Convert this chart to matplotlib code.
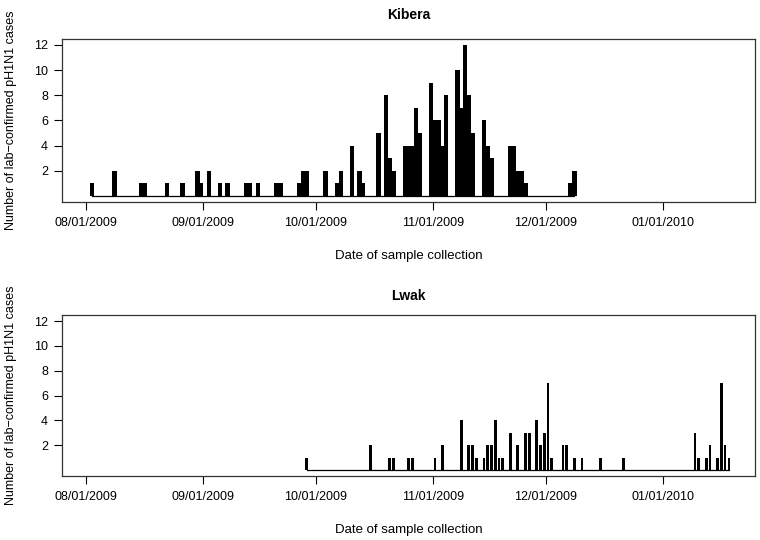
import pandas as pd
import matplotlib
matplotlib.use("Agg")
import matplotlib.pyplot as plt
import matplotlib.dates as mdates

plt.rcParams['font.family'] = ['Liberation Sans', 'DejaVu Sans']

# daily counts
kibera_dates = ["2009-08-02", "2009-08-08", "2009-08-15", "2009-08-16", "2009-08-22",
                "2009-08-26", "2009-08-30", "2009-08-31", "2009-09-02", "2009-09-05",
                "2009-09-07", "2009-09-12", "2009-09-13", "2009-09-15", "2009-09-20",
                "2009-09-21", "2009-09-26", "2009-09-27", "2009-09-28", "2009-10-03",
                "2009-10-06", "2009-10-07", "2009-10-10", "2009-10-12", "2009-10-13",
                "2009-10-17", "2009-10-19", "2009-10-20", "2009-10-21", "2009-10-24",
                "2009-10-25", "2009-10-26", "2009-10-27", "2009-10-28", "2009-10-31",
                "2009-11-01", "2009-11-02", "2009-11-03", "2009-11-04", "2009-11-07",
                "2009-11-08", "2009-11-09", "2009-11-10", "2009-11-11", "2009-11-14",
                "2009-11-15", "2009-11-16", "2009-11-21", "2009-11-22", "2009-11-23",
                "2009-11-24", "2009-11-25", "2009-12-07", "2009-12-08"]
kibera_cases = [1, 2, 1, 1, 1,
                1, 2, 1, 2, 1,
                1, 1, 1, 1, 1,
                1, 1, 2, 2, 2,
                1, 2, 4, 2, 1,
                5, 8, 3, 2, 4,
                4, 4, 7, 5, 9,
                6, 6, 4, 8, 10,
                7, 12, 8, 5, 6,
                4, 3, 4, 4, 2,
                2, 1, 1, 2]

lwak_dates = ["2009-09-28", "2009-10-15", "2009-10-20", "2009-10-21", "2009-10-25",
              "2009-10-26", "2009-11-01", "2009-11-03", "2009-11-08", "2009-11-10",
              "2009-11-11", "2009-11-12", "2009-11-14", "2009-11-15", "2009-11-16",
              "2009-11-17", "2009-11-18", "2009-11-19", "2009-11-21", "2009-11-23",
              "2009-11-25", "2009-11-26", "2009-11-28", "2009-11-29", "2009-11-30",
              "2009-12-01", "2009-12-02", "2009-12-05", "2009-12-06", "2009-12-08",
              "2009-12-10", "2009-12-15", "2009-12-21", "2010-01-09", "2010-01-10",
              "2010-01-12", "2010-01-13", "2010-01-15", "2010-01-16", "2010-01-17",
              "2010-01-18"]
lwak_cases = [1, 2, 1, 1, 1,
              1, 1, 2, 4, 2,
              2, 1, 1, 2, 2,
              4, 1, 1, 3, 2,
              3, 3, 4, 2, 3,
              7, 1, 2, 2, 1,
              1, 1, 1, 3, 1,
              1, 2, 1, 7, 2,
              1]

tick_dates = ["2009-08-01", "2009-09-01", "2009-10-01", "2009-11-01", "2009-12-01", "2010-01-01"]
yticks = [2, 4, 6, 8, 10, 12]

x_left = pd.Timestamp("2009-08-01") - pd.Timedelta(days=6.4)
x_right = pd.Timestamp("2009-08-01") + pd.Timedelta(days=177.5)

fig = plt.figure(figsize=(7.6, 5.4), dpi=100)
ax1 = fig.add_axes([0.0816, 0.626, 0.912, 0.302])
ax2 = fig.add_axes([0.0816, 0.1185, 0.912, 0.298])


def draw_panel(ax, dates, cases, title, bar_w, title_pad):
    d = pd.to_datetime(dates) + pd.Timedelta(hours=13)
    ax.bar(d, cases, width=bar_w, color="black", linewidth=0)
    ax.plot([d[0], d[-1]], [0, 0], color="black", lw=0.9)
    ax.set_xlim(x_left, x_right)
    ax.set_ylim(-0.48, 12.48)
    ax.set_xticks(pd.to_datetime(tick_dates))
    ax.xaxis.set_major_formatter(mdates.DateFormatter("%m/%d/%Y"))
    ax.set_yticks(yticks)
    ax.tick_params(axis="both", direction="out", length=6, width=0.8, labelsize=9, colors="black")
    ax.tick_params(axis="x", pad=5)
    ax.tick_params(axis="y", pad=4)
    for s in ax.spines.values():
        s.set_linewidth(0.9)
        s.set_color("#333333")
    ax.set_title(title, fontsize=10, fontweight="bold", pad=title_pad)
    ax.set_xlabel("Date of sample collection", fontsize=9.5, labelpad=15)
    ax.set_ylabel("Number of lab\u2212confirmed pH1N1 cases", fontsize=9, labelpad=12)


draw_panel(ax1, kibera_dates, kibera_cases, "Kibera", 1.15, 14)
draw_panel(ax2, lwak_dates, lwak_cases, "Lwak", 0.72, 11)

fig.savefig("out.png", dpi=100)
